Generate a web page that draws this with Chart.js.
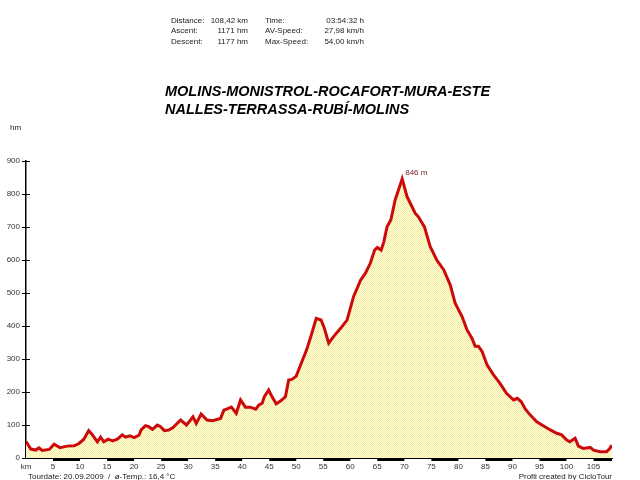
<!DOCTYPE html>
<html>
<head>
<meta charset="utf-8">
<script src="https://cdn.jsdelivr.net/npm/chart.js@4.4.1/dist/chart.umd.min.js"></script>
<style>
  body { margin: 0; background: #fff; }
  #wrap { position: relative; width: 640px; height: 480px; overflow: hidden; font-family: 'Liberation Sans', Arial, sans-serif; color: #222; }
  #myChart { position: absolute; left: 0; top: 0; }
  .t { position: absolute; font-size: 8px; white-space: nowrap; line-height: 10px; }
  .r { text-align: right; }
  .title { position: absolute; left: 165px; font-size: 14.5px; font-weight: bold; font-style: italic; color: #000; white-space: nowrap; }
</style>
</head>
<body>
<div id="wrap">
  <canvas id="myChart" width="640" height="480"></canvas>

  <div class="t" style="left:171px;top:16px">Distance:</div>
  <div class="t r" style="left:198px;width:50px;top:16px">108,42 km</div>
  <div class="t" style="left:265px;top:16px">Time:</div>
  <div class="t r" style="left:304px;width:60px;top:16px">03:54:32 h</div>

  <div class="t" style="left:171px;top:26px">Ascent:</div>
  <div class="t r" style="left:198px;width:50px;top:26px">1171 hm</div>
  <div class="t" style="left:265px;top:26px">AV-Speed:</div>
  <div class="t r" style="left:304px;width:60px;top:26px">27,98 km/h</div>

  <div class="t" style="left:171px;top:37px">Descent:</div>
  <div class="t r" style="left:198px;width:50px;top:37px">1177 hm</div>
  <div class="t" style="left:265px;top:37px">Max-Speed:</div>
  <div class="t r" style="left:304px;width:60px;top:37px">54,00 km/h</div>

  <div class="title" style="top:83px">MOLINS-MONISTROL-ROCAFORT-MURA-ESTE</div>
  <div class="title" style="top:101px">NALLES-TERRASSA-RUBÍ-MOLINS</div>

  <div class="t" style="left:10px;top:123px">hm</div>

  <div class="t" style="left:28px;top:472px">Tourdate: 20.09.2009 &nbsp;/ &nbsp;ø-Temp.: 16,4 °C</div>
  <div class="t r" style="left:452px;width:160px;top:472px">Profil created by CicloTour</div>
</div>

<script>
'use strict';

// profile data
let distanceKm = [0, 0.9, 1.8, 2.4, 3.0, 4.3, 5.2, 6.3, 7.6, 8.9,
  9.8, 10.7, 11.6, 12.3, 13.2, 13.8, 14.4, 15.2, 16.0, 16.9,
  17.8, 18.4, 19.2, 20.0, 20.9, 21.3, 22.1, 22.7, 23.4, 24.3,
  24.9, 25.6, 26.4, 27.2, 28.6, 29.7, 30.9, 31.5, 32.4, 33.5,
  34.5, 36.0, 36.6, 37.1, 38.0, 38.9, 39.7, 40.6, 41.5, 42.5,
  43.1, 43.7, 44.1, 44.9, 45.5, 46.3, 47.2, 48.0, 48.6, 49.2,
  50.0, 50.8, 51.9, 52.7, 53.7, 54.6, 55.2, 56.0, 56.9, 58.2,
  59.4, 60.6, 61.9, 62.8, 63.7, 64.5, 65.0, 65.7, 66.2, 66.8,
  67.5, 68.3, 69.6, 70.5, 71.1, 72.0, 72.6, 73.7, 74.8, 76.0,
  77.3, 78.5, 79.4, 80.7, 81.6, 82.5, 83.1, 83.7, 84.4, 85.3,
  86.5, 87.7, 88.9, 90.2, 90.9, 91.6, 92.4, 93.3, 94.5, 95.7,
  97.0, 98.2, 99.1, 100.0, 100.6, 101.6, 102.2, 103.1, 104.4, 105.0,
  106.2, 107.4, 108.0, 108.42];

let elevation = [50, 27, 24, 31, 23, 26, 42, 31, 36, 37,
  44, 57, 83, 70, 49, 63, 49, 57, 52, 57,
  70, 63, 67, 62, 69, 85, 98, 95, 87, 100,
  95, 83, 85, 92, 115, 100, 125, 105, 133, 115,
  113, 120, 145, 148, 154, 135, 176, 154, 154, 148,
  161, 166, 186, 206, 186, 164, 174, 186, 236, 238,
  248, 282, 327, 368, 423, 418, 393, 348, 368, 393,
  418, 489, 539, 560, 590, 630, 638, 630, 655, 701,
  721, 782, 846, 792, 772, 742, 731, 701, 640, 600,
  570, 524, 469, 428, 388, 363, 339, 339, 322, 282,
  252, 226, 196, 176, 181, 171, 148, 130, 110, 98,
  85, 75, 70, 55, 49, 60, 36, 29, 32, 24,
  19, 19, 29, 39];

let totalKm = 108.42;
let yTicksMax = 900;
let yTickStep = 100;
let xTickStep = 5;
let peakLabel = '846 m';

let points = [];
for (let i = 0; i < distanceKm.length; i++) {
  points.push({ x: distanceKm[i], y: elevation[i] });
}

// little checker pattern for the area fill
function makeFillPattern(ctx) {
  let c = document.createElement('canvas');
  c.width = 2;
  c.height = 2;
  let p = c.getContext('2d');
  p.fillStyle = '#fffde4';
  p.fillRect(0, 0, 2, 2);
  p.fillStyle = '#f2eb9a';
  p.fillRect(0, 0, 1, 1);
  p.fillRect(1, 1, 1, 1);
  return ctx.createPattern(c, 'repeat');
}

// black/white km bar under the x axis, inner y ticks and the peak label
let profileDecor = {
  id: 'profileDecor',
  afterDatasetsDraw(chart) {
    let ctx = chart.ctx;
    let xs = chart.scales.x;
    let ys = chart.scales.y;
    let base = ys.getPixelForValue(0);

    ctx.save();
    ctx.fillStyle = '#000';
    for (let km = 0; km < totalKm; km += xTickStep) {
      let seg = km / xTickStep;
      let x1 = xs.getPixelForValue(km);
      let x2 = xs.getPixelForValue(Math.min(km + xTickStep, totalKm));
      if (seg % 2 === 1) {
        ctx.fillRect(x1, base, x2 - x1, 3);
      } else {
        ctx.fillRect(x1, base, x2 - x1, 1);
      }
    }

    ctx.strokeStyle = '#000';
    ctx.lineWidth = 1;
    for (let v = 0; v <= yTicksMax; v += yTickStep) {
      let y = Math.round(ys.getPixelForValue(v)) + 0.5;
      ctx.beginPath();
      ctx.moveTo(ys.right, y);
      ctx.lineTo(ys.right + 4, y);
      ctx.stroke();
    }

    // peak label
    let top = 0;
    for (let i = 1; i < elevation.length; i++) {
      if (elevation[i] > elevation[top]) top = i;
    }
    let px = xs.getPixelForValue(distanceKm[top]);
    let py = ys.getPixelForValue(elevation[top]);
    ctx.fillStyle = '#7a1c1c';
    ctx.font = '8px "Liberation Sans", Arial, sans-serif';
    ctx.textBaseline = 'middle';
    ctx.fillText(peakLabel, px + 3, py - 6);
    ctx.restore();
  }
};

let ctx = document.getElementById('myChart').getContext('2d');

let chartObject = {
  type: 'line',
  data: {
    datasets: [{
      data: points,
      borderColor: '#cc0a0a',
      borderWidth: 3,
      pointRadius: 0,
      tension: 0,
      fill: 'origin',
      backgroundColor: makeFillPattern(ctx)
    }]
  },
  options: {
    responsive: false,
    animation: false,
    devicePixelRatio: 1,
    layout: { padding: { top: 161, right: 28, left: 0, bottom: 0 } },
    plugins: {
      legend: { display: false },
      tooltip: { enabled: false }
    },
    scales: {
      x: {
        type: 'linear',
        min: 0,
        max: totalKm,
        afterFit: function (s) { s.height = 22; },
        grid: { display: false, drawTicks: false },
        border: { display: true, color: '#000', width: 1 },
        ticks: {
          stepSize: xTickStep,
          includeBounds: false,
          autoSkip: false,
          maxRotation: 0,
          padding: 4,
          color: '#333',
          font: { family: 'Liberation Sans', size: 8 },
          callback: function (v) { return v === 0 ? 'km' : v; }
        }
      },
      y: {
        min: 0,
        max: yTicksMax,
        afterFit: function (s) { s.width = 26; },
        grid: { drawOnChartArea: false, drawTicks: true, tickLength: 4, color: '#000' },
        border: { display: true, color: '#000', width: 1.5 },
        ticks: {
          stepSize: yTickStep,
          padding: 2,
          color: '#333',
          font: { family: 'Liberation Sans', size: 8 }
        }
      }
    }
  },
  plugins: [profileDecor]
};

new Chart(ctx, chartObject); // eslint-disable-line
</script>
</body>
</html>
